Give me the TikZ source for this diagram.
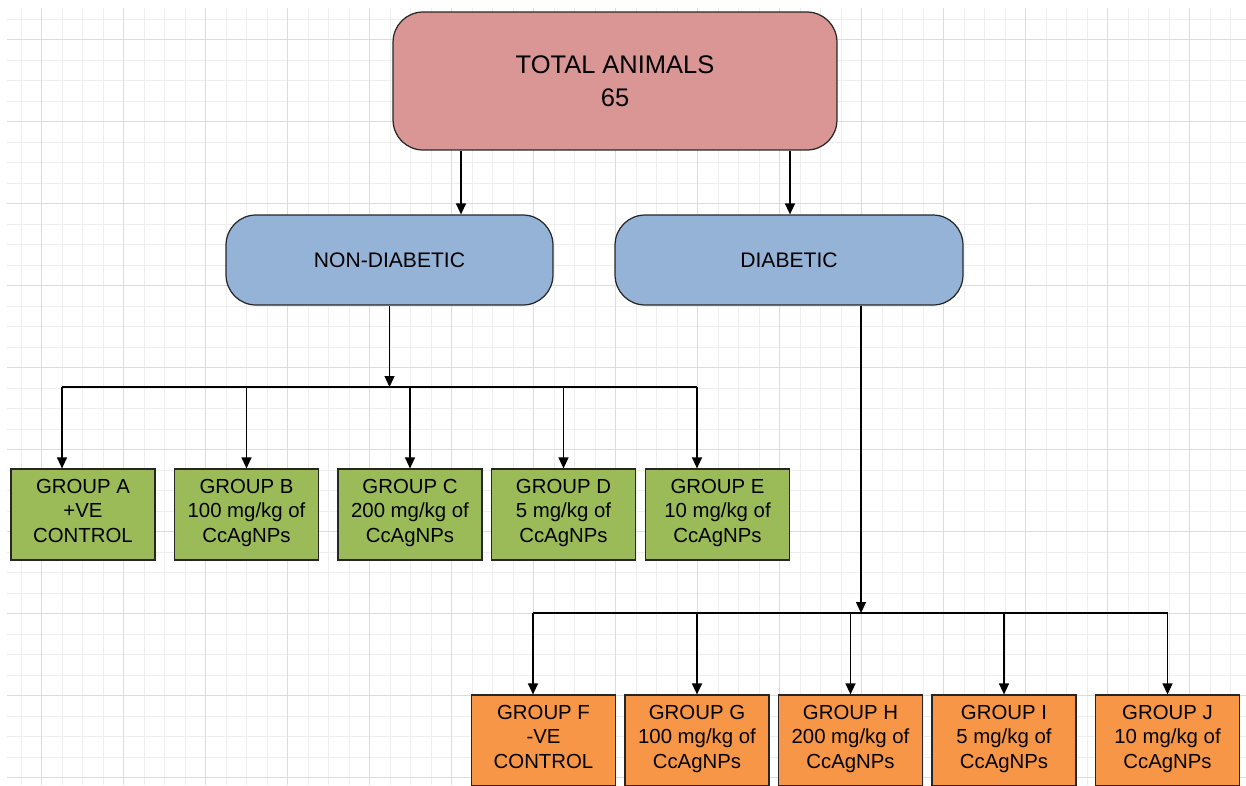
\documentclass[tikz,border=0pt]{standalone}
\usepackage{fontspec}
\setmainfont{Liberation Sans}
\usetikzlibrary{arrows.meta}

\definecolor{gridminor}{HTML}{EEEEEE}
\definecolor{gridmajor}{HTML}{DCDCDC}
\definecolor{totred}{HTML}{D99694}
\definecolor{midblue}{HTML}{95B3D7}
\definecolor{grpgreen}{HTML}{9BBB59}
\definecolor{grporange}{HTML}{F79646}

\tikzset{
  topbox/.style={draw=black!85, line width=0.7pt, rounded corners=0.6cm, fill=totred,
    minimum width=8.88cm, minimum height=2.76cm, align=center, inner sep=0pt,
    font=\fontsize{14.5}{19}\selectfont},
  midbox/.style={draw=black!85, line width=0.7pt, rounded corners=0.6cm, fill=midblue,
    minimum height=1.8cm, align=center, inner sep=0pt, font=\fontsize{12}{14}\selectfont},
  grpbox/.style={draw=black!85, line width=0.7pt, minimum width=2.88cm, minimum height=1.82cm,
    align=center, inner sep=0pt, font=\fontsize{11.6}{14}\selectfont,
    execute at begin node=\strut, execute at end node=\strut},
  arr/.style={line width=0.75pt, -{Triangle[length=2.2mm, width=2mm]}},
  bus/.style={line width=0.75pt}
}

\begin{document}
\begin{tikzpicture} [x=0.02cm, y=-0.02cm]
\useasboundingbox (0,0) rectangle (1246,785);
% grid
\foreach \k in {0,...,59} \draw[gridminor, line width=0.5pt] ({21+20.5*\k},8) -- ({21+20.5*\k},785);
\foreach \k in {0,...,37} \draw[gridminor, line width=0.5pt] (7,{19+20.5*\k}) -- (1246,{19+20.5*\k});
\foreach \k in {1,5,...,57} \draw[gridmajor, line width=0.6pt] ({21+20.5*\k},8) -- ({21+20.5*\k},785);
\foreach \k in {1,5,...,37} \draw[gridmajor, line width=0.6pt] (7,{19+20.5*\k}) -- (1246,{19+20.5*\k});

% top and middle
\node[topbox] (total) at (615,81) {TOTAL ANIMALS\\65};
\node[midbox, minimum width=6.54cm] (non) at (389.5,260) {NON-DIABETIC};
\node[midbox, minimum width=6.96cm] (dia) at (789,260) {DIABETIC};
\draw[arr] (461,0 |- total.south) -- (461,0 |- non.north);
\draw[arr] (790,0 |- total.south) -- (790,0 |- dia.north);

% groups
\foreach \n/\x/\t in {ga/83/{GROUP A\\+VE\\CONTROL}, gb/246.5/{GROUP B\\100 mg/kg of\\CcAgNPs},
    gc/410/{GROUP C\\200 mg/kg of\\CcAgNPs}, gd/563.5/{GROUP D\\5 mg/kg of\\CcAgNPs},
    ge/717.5/{GROUP E\\10 mg/kg of\\CcAgNPs}} {
 \node[grpbox, fill=grpgreen] (\n) at (\x,514.5) {\t};
}
\foreach \n/\x/\t in {gf/543.5/{GROUP F\\-VE\\CONTROL}, gg/697/{GROUP G\\100 mg/kg of\\CcAgNPs},
    gh/850.5/{GROUP H\\200 mg/kg of\\CcAgNPs}, gi/1004/{GROUP I\\5 mg/kg of\\CcAgNPs},
    gj/1167.5/{GROUP J\\10 mg/kg of\\CcAgNPs}} {
 \node[grpbox, fill=grporange] (\n) at (\x,740.5) {\t};
}

% non-diabetic branch
\coordinate (nbusL) at (62,387);
\coordinate (nbusR) at (697,387);
\draw[arr] (non.south) -- (non.south |- nbusL);
\draw[bus] (nbusL) -- (nbusR);
\foreach \n/\x in {ga/62, gb/246.5, gc/410, gd/563.5, ge/697} {
 \draw[arr] (\x,0 |- nbusL) -- (\x,0 |- \n.north);
}

% diabetic branch
\coordinate (dbusL) at (533,613);
\coordinate (dbusR) at (1167.5,613);
\draw[arr] (861,0 |- dia.south) -- (861,0 |- dbusL);
\draw[bus] (dbusL) -- (dbusR);
\foreach \n/\x in {gf/533, gg/697, gh/850.5, gi/1004, gj/1167.5} {
 \draw[arr] (\x,0 |- dbusL) -- (\x,0 |- \n.north);
}
\end{tikzpicture}
\end{document}
